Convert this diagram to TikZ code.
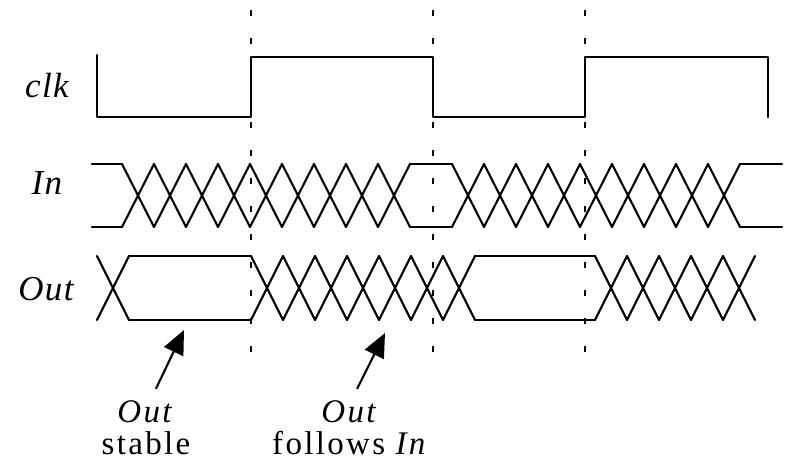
\documentclass[tikz,border=0pt]{standalone}
\usepackage{fontspec}
\setmainfont{Liberation Serif}
\usetikzlibrary{arrows.meta}
\tikzset{
sig/.style={line width=2.1pt, line cap=round, line join=round},
tick/.style={line width=1.5pt, dash pattern=on 6pt off 22pt},
lbl/.style={font=\fontsize{35}{31}\selectfont\addfontfeatures{LetterSpace=4}\itshape},
note/.style={align=center, anchor=north, font=\fontsize{33}{32}\selectfont\addfontfeatures{LetterSpace=7}},
pointer/.style={line width=2.1pt, shorten <=9pt, -{Triangle[length=24pt,width=21pt]}}
}
% crossing pair of diagonals: start x, count, top y, bottom y
\newcommand{\xings}[4]{%
  \foreach \k in {1,...,#2}{
    \draw[sig] ({#1+32*(\k-1)},#3) -- ({#1+32*\k},#4)
               ({#1+32*(\k-1)},#4) -- ({#1+32*\k},#3);
  }}

\begin{document}
\begin{tikzpicture}[x=1pt, y=-1pt]
	\useasboundingbox (0,0) rectangle (786,468);
	\foreach \x in {251,433,585}
		\draw[tick] (\x,10) -- (\x,358);
	% clock
	\node[lbl] (clk) at (47,86) {clk};
	\draw[sig] (97,55) -- (97,117) -- (251,117) -- (251,57) -- (433,57) -- (433,117)
		-- (585,117) -- (585,57) -- (768,57) -- (768,117);
	% input
	\node[lbl] (in) at (47,183) {In};
	\draw[sig] (92,164) -- (122,164) (92,227) -- (122,227)
		(410,164) -- (452,164) (410,227) -- (452,227)
		(740,164) -- (782,164) (740,227) -- (782,227);
	\xings{122}{9}{164}{227}
	\xings{452}{9}{164}{227}
	% output
	\node[lbl] (out) at (46,289) {Out};
	\draw[sig] (129,256) -- (251,256) (129,320) -- (251,320)
		(475,256) -- (595,256) (475,320) -- (595,320);
	\xings{97}{1}{256}{320}
	\xings{251}{7}{256}{320}
	\xings{595}{5}{256}{320}
	% notes
	\node[note] (stable) at (146,397) {\textit{Out}\\stable};
	\node[note] (follows) at (350,397) {\textit{Out}\\follows \textit{In}};
	\coordinate (stabletip) at (184,330);
	\coordinate (followstip) at (385,333);
	\draw[pointer] ([xshift=6pt]stable.north) -- (stabletip);
	\draw[pointer] ([xshift=3pt]follows.north) -- (followstip);
\end{tikzpicture}
\end{document}
